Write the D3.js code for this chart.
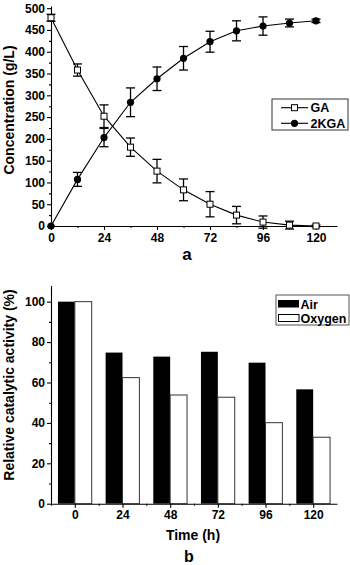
<!DOCTYPE html>
<html>
<head>
<meta charset="utf-8">
<script src="https://cdn.jsdelivr.net/npm/d3@7"></script>
<style>
  body { margin: 0; background: #fff; }
  svg { display: block; font-family: "Liberation Sans", Arial, sans-serif; font-weight: bold; }
</style>
</head>
<body>
<svg id="chart" width="350" height="565"></svg>
<script>
// Panel a: concentration vs time
const timeA = [0, 12, 24, 36, 48, 60, 72, 84, 96, 108, 120];
const gaValues = [478, 358, 252, 181, 126, 83, 50, 25, 9, 2, 0];
const gaErrors = [8, 14, 26, 21, 27, 25, 29, 20, 14, 9, 2];
const kgaValues = [0, 107, 203, 284, 338, 385, 423, 448, 459, 466, 471];
const kgaErrors = [0, 16, 21, 33, 27, 27, 24, 23, 21, 9, 4];

// Panel b: relative catalytic activity
const timeB = [0, 24, 48, 72, 96, 120];
const airValues = [100, 74.8, 72.8, 75.2, 69.8, 56.6];
const oxygenValues = [100, 62.4, 53.8, 52.7, 40.1, 32.9];

const svg = d3.select('#chart');

function styleAxes() {
  svg.selectAll('.tick text').attr('font-size', 12).attr('font-weight', 'bold')
    .attr('font-family', '"Liberation Sans", Arial, sans-serif').attr('fill', '#000');
  svg.selectAll('.domain, .tick line').attr('stroke', '#000').attr('stroke-width', 1.1);
}

// ---------- panel a ----------
const xA = d3.scaleLinear().domain([0, 129.5]).range([51, 337]);
const yA = d3.scaleLinear().domain([0, 505]).range([226, 6]);

const gxA = svg.append('g').attr('transform', 'translate(0,226)');
gxA.call(d3.axisBottom(xA).tickValues([0, 24, 48, 72, 96, 120]).tickSize(4).tickSizeOuter(0).tickPadding(3));
gxA.append('g').call(d3.axisBottom(xA).tickValues([12, 36, 60, 84, 108]).tickSize(2).tickFormat('').tickSizeOuter(0))
  .select('.domain').remove();

const gyA = svg.append('g').attr('transform', 'translate(51,0)');
gyA.call(d3.axisLeft(yA).tickValues(d3.range(0, 501, 50)).tickSize(4).tickSizeOuter(0).tickPadding(2));
gyA.append('g').call(d3.axisLeft(yA).tickValues(d3.range(25, 501, 50)).tickSize(2).tickFormat('').tickSizeOuter(0))
  .select('.domain').remove();
styleAxes();

svg.append('text')
  .attr('transform', 'translate(13.5,110) rotate(-90)')
  .attr('text-anchor', 'middle')
  .attr('font-size', 14)
  .text('Concentration (g/L)');

svg.append('text').attr('x', 187).attr('y', 259.5).attr('text-anchor', 'middle').attr('font-size', 17).text('a');

function drawSeries(values, errors, marker) {
  const pts = timeA.map((t, i) => ({ t, v: values[i], e: errors[i] }));
  const line = d3.line().x(d => xA(d.t)).y(d => yA(d.v));
  svg.append('path').datum(pts).attr('d', line).attr('fill', 'none').attr('stroke', '#000').attr('stroke-width', 1.1);

  const eb = svg.append('g').attr('stroke', '#000').attr('stroke-width', 1.3);
  pts.filter(d => d.e > 0).forEach(d => {
    const x = xA(d.t);
    eb.append('line').attr('x1', x).attr('x2', x).attr('y1', yA(d.v - d.e)).attr('y2', yA(d.v + d.e));
    eb.append('line').attr('x1', x - 4.5).attr('x2', x + 4.5).attr('y1', yA(d.v - d.e)).attr('y2', yA(d.v - d.e));
    eb.append('line').attr('x1', x - 4.5).attr('x2', x + 4.5).attr('y1', yA(d.v + d.e)).attr('y2', yA(d.v + d.e));
  });

  pts.forEach(d => marker(svg, xA(d.t), yA(d.v)));
}

const squareMarker = (g, x, y) => g.append('rect').attr('x', x - 3).attr('y', y - 3).attr('width', 6).attr('height', 6)
  .attr('fill', '#fff').attr('stroke', '#000').attr('stroke-width', 1);
const circleMarker = (g, x, y) => g.append('circle').attr('cx', x).attr('cy', y).attr('r', 3.6).attr('fill', '#000');

drawSeries(gaValues, gaErrors, squareMarker);
drawSeries(kgaValues, kgaErrors, circleMarker);

// legend a
const legA = svg.append('g');
legA.append('rect').attr('x', 272).attr('y', 99).attr('width', 76).attr('height', 31)
  .attr('fill', '#fff').attr('stroke', '#333').attr('stroke-width', 1);
[['GA', squareMarker, 107.7], ['2KGA', circleMarker, 123.3]].forEach(([label, mk, y]) => {
  legA.append('line').attr('x1', 281).attr('x2', 308).attr('y1', y).attr('y2', y).attr('stroke', '#000').attr('stroke-width', 1.1);
  mk(legA, 294.5, y);
  legA.append('text').attr('x', 310.5).attr('y', y + 4.4).attr('font-size', 12.5).text(label);
});

// ---------- panel b ----------
const xB = d3.scaleLinear().domain([-12, 132]).range([51, 337]);
const yB = d3.scaleLinear().domain([0, 108]).range([503.7, 285.5]);
const barW = 8.5;

const bars = svg.append('g');
bars.selectAll('.air').data(timeB).enter().append('rect')
  .attr('x', d => xB(d - barW)).attr('width', d => xB(d) - xB(d - barW))
  .attr('y', (d, i) => yB(airValues[i])).attr('height', (d, i) => yB(0) - yB(airValues[i]))
  .attr('fill', '#000');
bars.selectAll('.oxy').data(timeB).enter().append('rect')
  .attr('x', d => xB(d)).attr('width', d => xB(d + barW) - xB(d))
  .attr('y', (d, i) => yB(oxygenValues[i])).attr('height', (d, i) => yB(0) - yB(oxygenValues[i]))
  .attr('fill', '#fff').attr('stroke', '#333').attr('stroke-width', 1);

const gxB = svg.append('g').attr('transform', 'translate(0,503.7)');
gxB.call(d3.axisBottom(xB).tickValues(timeB).tickSize(4).tickSizeOuter(0).tickPadding(3));
gxB.append('g').call(d3.axisBottom(xB).tickValues([-12, 12, 36, 60, 84, 108]).tickSize(2).tickFormat('').tickSizeOuter(0))
  .select('.domain').remove();

const gyB = svg.append('g').attr('transform', 'translate(51,0)');
gyB.call(d3.axisLeft(yB).tickValues(d3.range(0, 101, 20)).tickSize(4).tickSizeOuter(0).tickPadding(2));
gyB.append('g').call(d3.axisLeft(yB).tickValues(d3.range(10, 101, 20)).tickSize(2).tickFormat('').tickSizeOuter(0))
  .select('.domain').remove();
styleAxes();

svg.append('text')
  .attr('transform', 'translate(14,385) rotate(-90)')
  .attr('text-anchor', 'middle')
  .attr('font-size', 14)
  .text('Relative catalytic activity (%)');

svg.append('text').attr('x', 193).attr('y', 539.5).attr('text-anchor', 'middle').attr('font-size', 14).text('Time (h)');
svg.append('text').attr('x', 189).attr('y', 561.5).attr('text-anchor', 'middle').attr('font-size', 16).text('b');

// legend b
const legB = svg.append('g');
legB.append('rect').attr('x', 276).attr('y', 295).attr('width', 73).attr('height', 30)
  .attr('fill', '#fff').attr('stroke', '#555').attr('stroke-width', 1);
legB.append('rect').attr('x', 278).attr('y', 300).attr('width', 21).attr('height', 7.5).attr('fill', '#000');
legB.append('rect').attr('x', 278.5).attr('y', 314.5).attr('width', 20.5).attr('height', 7).attr('fill', '#fff').attr('stroke', '#000').attr('stroke-width', 1);
legB.append('text').attr('x', 300.5).attr('y', 308.5).attr('font-size', 12.5).text('Air');
legB.append('text').attr('x', 300.5).attr('y', 322.5).attr('font-size', 12.5).text('Oxygen');
</script>
</body>
</html>
